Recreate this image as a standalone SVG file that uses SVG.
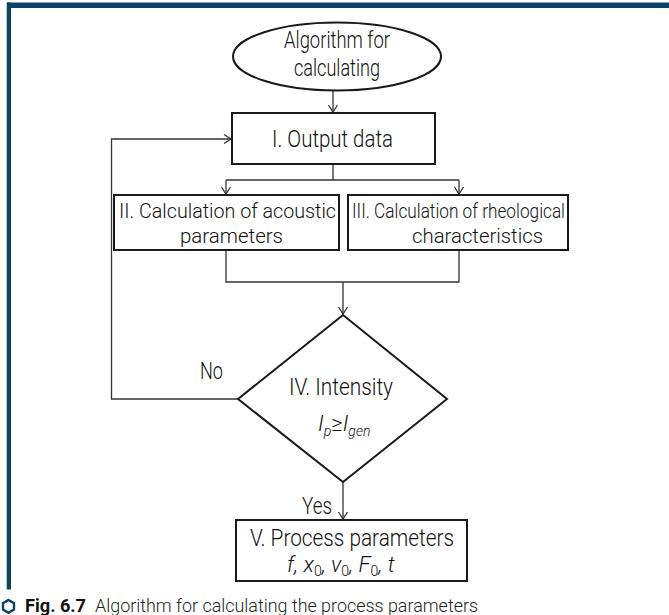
<svg xmlns="http://www.w3.org/2000/svg" width="669" height="615" viewBox="0 0 669 615">
<style>
.t{font-family:Roboto,"Liberation Sans",sans-serif;font-size:24px;fill:#111;font-weight:300}
.t2{font-family:Roboto,"Liberation Sans",sans-serif;font-size:21px;fill:#111;font-weight:300}
.it{font-family:Roboto,"Liberation Sans",sans-serif;font-style:italic;fill:#111;font-weight:300}
.box{fill:#fff;stroke:#1a1a1a;stroke-width:2}
.c{fill:none;stroke:#333;stroke-width:1.3}
.frame{fill:#0d4466}
.cap{font-family:Roboto,"Liberation Sans",sans-serif;font-size:19px;fill:#231f20;font-weight:300}
.capb{font-family:Roboto,"Liberation Sans",sans-serif;font-size:19px;fill:#111;font-weight:700}
</style>
<defs>
<marker id="ah" markerWidth="12" markerHeight="12" refX="10" refY="6" orient="auto" markerUnits="userSpaceOnUse">
<path d="M3,1.5 L10,6 L3,10.5" fill="none" stroke="#333" stroke-width="1.3"/>
</marker>
</defs>
<rect width="669" height="615" fill="#fff"/>
<rect class="frame" x="7" y="2.5" width="662" height="5.5"/>
<rect class="frame" x="6.7" y="2.5" width="4.3" height="587"/>

<g id="connectors">
<path class="c" d="M333,91 V112" marker-end="url(#ah)"/>
<path class="c" d="M333,164 V180 M226,180 H459"/>
<path class="c" d="M226,180 V194" marker-end="url(#ah)"/>
<path class="c" d="M459,180 V194" marker-end="url(#ah)"/>
<path class="c" d="M226,250 V282 H459 V250"/>
<path class="c" d="M343,282 V314" marker-end="url(#ah)"/>
<path class="c" d="M238,399 H111.5 V139 H231" marker-end="url(#ah)"/>
<path class="c" d="M343,482 V519" marker-end="url(#ah)"/>
<text class="t" x="200" y="379" textLength="23" lengthAdjust="spacingAndGlyphs">No</text>
<text class="t" x="302" y="514" textLength="30" lengthAdjust="spacingAndGlyphs">Yes</text>
</g>

<g id="start">
<ellipse cx="337" cy="56.5" rx="104" ry="34" fill="#fff" stroke="#1a1a1a" stroke-width="2"/>
<text class="t" x="337" y="48" text-anchor="middle" textLength="106" lengthAdjust="spacingAndGlyphs">Algorithm for</text>
<text class="t" x="337" y="76" text-anchor="middle" textLength="86" lengthAdjust="spacingAndGlyphs">calculating</text>
</g>

<g id="n1">
<rect class="box" x="232" y="113" width="203" height="51"/>
<text class="t" x="272" y="147" textLength="121" lengthAdjust="spacingAndGlyphs">I. Output data</text>
</g>

<g id="n2">
<rect class="box" x="114" y="195" width="225" height="55"/>
<text class="t2" x="119" y="218" textLength="217" lengthAdjust="spacingAndGlyphs">II. Calculation of acoustic</text>
<text class="t2" x="180" y="243" textLength="103" lengthAdjust="spacingAndGlyphs">parameters</text>
</g>

<g id="n3">
<rect class="box" x="348" y="195" width="220" height="55"/>
<text class="t2" x="352" y="218" textLength="213" lengthAdjust="spacingAndGlyphs">III. Calculation of rheological</text>
<text class="t2" x="412" y="243" textLength="131" lengthAdjust="spacingAndGlyphs">characteristics</text>
</g>

<g id="n4">
<polygon points="343,315 447,399 343,482 238,399" fill="#fff" stroke="#1a1a1a" stroke-width="2"/>
<text class="t" x="289" y="395" textLength="104" lengthAdjust="spacingAndGlyphs">IV. Intensity</text>
<text class="it" x="318" y="431" font-size="22">I<tspan font-size="14" dy="5">p</tspan><tspan dy="-5" font-style="normal">≥</tspan>I<tspan font-size="14" dy="5">gen</tspan></text>
</g>

<g id="n5">
<rect class="box" x="236" y="520" width="231" height="61"/>
<text class="t" x="250" y="546" textLength="204" lengthAdjust="spacingAndGlyphs">V. Process parameters</text>
<text class="it" x="287" y="572" font-size="22">f, x<tspan font-size="14" dy="4" font-style="normal">0</tspan><tspan dy="-4">, v</tspan><tspan font-size="14" dy="4" font-style="normal">0</tspan><tspan dy="-4">, F</tspan><tspan font-size="14" dy="4" font-style="normal">0</tspan><tspan dy="-4">, t</tspan></text>
</g>

<g id="caption">
<polygon points="8.5,600 14,603.2 14,609.6 8.5,612.8 3,609.6 3,603.2" fill="none" stroke="#0d4466" stroke-width="2.4"/>
<text class="capb" x="25" y="611.5" textLength="61" lengthAdjust="spacingAndGlyphs">Fig. 6.7</text>
<text class="cap" x="95" y="611.5" textLength="383" lengthAdjust="spacingAndGlyphs">Algorithm for calculating the process parameters</text>
</g>
</svg>
